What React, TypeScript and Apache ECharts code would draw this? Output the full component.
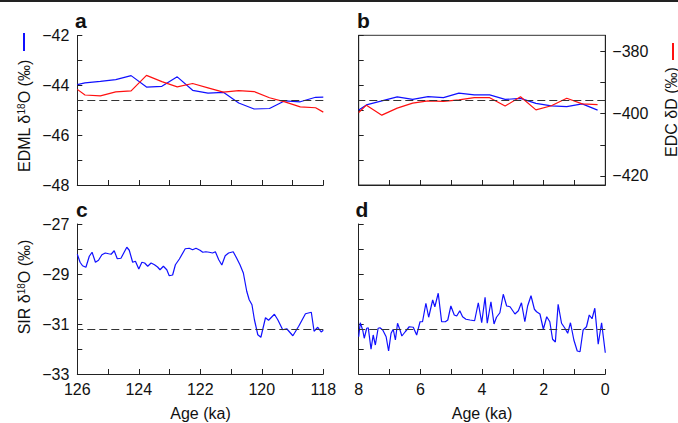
import React, { useEffect, useRef } from "react";
import * as echarts from "echarts";

const FONT = "'Liberation Sans', Arial, Helvetica, sans-serif";
const BLUE = "#1010ff";
const RED = "#ff1010";
const AX = "#222222";
const TXT = "#111111";

// Panel a: Last Interglacial, EDML δ18O (left axis) and EDC δD (right axis)
const aEdmlAge = [126, 125.75, 125.25, 124.75, 124.25, 123.75, 123.25, 122.75, 122.25, 121.75, 121.25, 120.75, 120.25, 119.75, 119.25, 118.75, 118.25, 118];
const aEdmlD18O = [-43.97, -43.9, -43.84, -43.77, -43.61, -44.07, -44.04, -43.66, -44.2, -44.31, -44.28, -44.71, -44.95, -44.93, -44.62, -44.66, -44.48, -44.47];
const aEdcAge = [126, 125.75, 125.25, 124.75, 124.25, 123.75, 123.25, 122.75, 122.25, 121.75, 121.25, 120.75, 120.25, 119.75, 119.25, 118.75, 118.25, 118];
const aEdcDD = [-392.2, -394.0, -394.3, -393.0, -392.7, -387.7, -389.7, -391.4, -390.3, -391.7, -393.1, -392.6, -392.9, -394.9, -396.2, -397.8, -398.1, -399.5];

// Panel b: Holocene
const bAge = [8, 7.75, 7.25, 6.75, 6.25, 5.75, 5.25, 4.75, 4.25, 3.75, 3.25, 2.75, 2.25, 1.75, 1.25, 0.75, 0.25];
const bEdmlD18O = [-44.99, -44.79, -44.63, -44.47, -44.57, -44.46, -44.5, -44.32, -44.39, -44.39, -44.57, -44.53, -44.73, -44.83, -44.86, -44.75, -45.0];
const bEdcDD = [-399.67, -397.3, -400.5, -398.26, -396.66, -395.9, -396.1, -395.6, -394.9, -394.9, -397.6, -394.6, -398.8, -397.5, -395.1, -396.9, -397.1];

const edmlRef = -44.6;

// Panel c: SIR δ18O, Last Interglacial
const cAge = [126.0, 125.91, 125.83, 125.72, 125.61, 125.52, 125.41, 125.31, 125.2, 125.09, 124.98, 124.9, 124.8, 124.7, 124.58, 124.39, 124.31, 124.2, 124.11, 124.0, 123.9, 123.81, 123.71, 123.6, 123.49, 123.39, 123.31, 123.2, 123.09, 123.01, 122.9, 122.81, 122.68, 122.49, 122.36, 122.25, 122.14, 122.01, 121.92, 121.82, 121.71, 121.6, 121.51, 121.4, 121.3, 121.19, 121.08, 120.93, 120.82, 120.71, 120.6, 120.49, 120.41, 120.32, 120.24, 120.13, 120.03, 119.88, 119.78, 119.59, 119.48, 119.32, 119.19, 118.99, 118.8, 118.58, 118.39, 118.3, 118.18, 118.07, 118.0];
const cSir = [-28.21, -28.53, -28.67, -28.73, -28.29, -28.13, -28.53, -28.45, -28.23, -28.16, -28.19, -28.21, -28.07, -28.39, -28.37, -27.93, -28.05, -28.53, -28.49, -28.8, -28.53, -28.56, -28.69, -28.56, -28.63, -28.72, -28.83, -28.69, -28.83, -29.07, -29.04, -28.63, -28.4, -27.99, -27.97, -28.03, -27.97, -28.05, -28.13, -28.11, -28.13, -28.16, -28.11, -28.43, -28.64, -28.27, -28.16, -28.11, -28.36, -28.63, -28.96, -29.69, -30.03, -30.23, -30.83, -31.43, -31.53, -30.75, -30.85, -30.61, -30.83, -31.23, -31.19, -31.47, -31.09, -30.59, -30.53, -31.29, -31.13, -31.32, -31.25];

// Panel d: SIR δ18O, Holocene
const dAge = [8.0, 7.95, 7.87, 7.82, 7.74, 7.69, 7.6, 7.53, 7.46, 7.37, 7.31, 7.22, 7.11, 7.03, 6.95, 6.88, 6.81, 6.74, 6.66, 6.6, 6.49, 6.36, 6.23, 6.12, 6.01, 5.93, 5.82, 5.73, 5.6, 5.53, 5.42, 5.31, 5.19, 5.11, 5.01, 4.9, 4.82, 4.72, 4.63, 4.52, 4.39, 4.24, 4.12, 4.01, 3.9, 3.83, 3.71, 3.61, 3.53, 3.42, 3.31, 3.2, 3.09, 2.93, 2.82, 2.72, 2.61, 2.52, 2.41, 2.3, 2.23, 2.12, 2.01, 1.9, 1.8, 1.71, 1.62, 1.53, 1.42, 1.31, 1.22, 1.13, 1.02, 0.91, 0.82, 0.72, 0.61, 0.52, 0.43, 0.34, 0.23, 0.12, 0.0];
const dSir = [-31.51, -30.95, -31.24, -31.57, -31.17, -31.15, -32.01, -31.44, -31.84, -31.17, -31.15, -31.24, -31.51, -32.08, -31.37, -31.21, -31.64, -30.97, -31.24, -31.48, -31.31, -31.11, -31.13, -31.44, -30.91, -30.91, -30.17, -30.73, -30.04, -30.31, -29.77, -30.91, -30.91, -30.84, -30.28, -30.64, -30.68, -30.47, -30.71, -30.81, -30.84, -30.87, -30.15, -30.95, -29.93, -30.97, -30.11, -31.0, -30.73, -30.55, -29.81, -30.28, -30.31, -30.6, -30.47, -30.15, -30.91, -30.28, -29.87, -30.41, -30.51, -30.6, -31.21, -30.71, -30.91, -31.61, -31.72, -30.21, -30.97, -31.17, -31.37, -30.95, -31.64, -32.08, -32.11, -31.24, -31.11, -30.64, -30.79, -30.37, -31.81, -30.95, -32.15];

const sirRef = -31.21;

// Axis ranges and tick labels
const edmlRange = [-48, -42];
const edcRange = [-422.9, -374.9];
const edcTicks = [-420, -410, -400, -390, -380];
const edcLabels = [-420, -400, -380];
const sirRange = [-33, -27];
const ligRange = [118, 126];
const holRange = [0, 8];

const zip = (xs: number[], ys: number[]) => xs.slice(0, Math.min(xs.length, ys.length)).map((x, i) => [x, ys[i]]);
const minus = (v: number) => (v < 0 ? "\u2212" + Math.abs(v) : String(v));

const labelStyle = { fontFamily: FONT, fontSize: 16, color: TXT };

function xAxis(gridIndex: number, range: number[], showLabels: boolean) {
  return {
    type: "value",
    gridIndex,
    min: range[0],
    max: range[1],
    interval: 1,
    inverse: true,
    axisLine: { show: true, onZero: false, lineStyle: { color: AX, width: 1 } },
    axisTick: { show: true, inside: true, length: 5, lineStyle: { color: AX, width: 1 } },
    axisLabel: {
      show: showLabels,
      margin: 7,
      ...labelStyle,
      formatter: (v: number) => (Math.round(v) % 2 === 0 ? minus(v) : ""),
    },
    splitLine: { show: false },
  };
}

function yAxis(gridIndex: number, range: number[], showLabels: boolean, even: boolean) {
  return {
    type: "value",
    gridIndex,
    min: range[0],
    max: range[1],
    interval: 1,
    axisLine: { show: true, onZero: false, lineStyle: { color: AX, width: 1 } },
    axisTick: { show: true, inside: true, length: 5, lineStyle: { color: AX, width: 1 } },
    axisLabel: {
      show: showLabels,
      margin: 8,
      ...labelStyle,
      formatter: (v: number) => {
        const r = Math.round(Math.abs(v)) % 2;
        return (even ? r === 0 : r === 1) ? minus(v) : "";
      },
    },
    splitLine: { show: false },
  };
}

function dashed(value: number) {
  return {
    silent: true,
    symbol: "none",
    label: { show: false },
    lineStyle: { type: [8, 4], color: "#333", width: 1.2 },
    data: [{ yAxis: value }],
  };
}

function lineSeries(name: string, xi: number, yi: number, data: number[][], color: string, ref?: number) {
  const s: any = {
    name,
    type: "line",
    xAxisIndex: xi,
    yAxisIndex: yi,
    data,
    symbol: "none",
    showSymbol: false,
    lineStyle: { color, width: 1.2 },
    itemStyle: { color },
    clip: true,
    z: 3,
  };
  if (ref !== undefined) s.markLine = dashed(ref);
  return s;
}

function rotText(x: number, y: number, text: string) {
  return {
    type: "text",
    x,
    y,
    rotation: Math.PI / 2,
    style: {
      text,
      align: "center",
      verticalAlign: "middle",
      textAlign: "center",
      textVerticalAlign: "middle",
      rich: {
        n: { fontFamily: FONT, fontSize: 16, fill: TXT, color: TXT },
        s: { fontFamily: FONT, fontSize: 10, fill: TXT, color: TXT, verticalAlign: "top" },
      },
    },
  };
}

function plainText(x: number, y: number, text: string, size: number, bold: boolean, align = "left") {
  return {
    type: "text",
    x,
    y,
    style: {
      text,
      fill: TXT,
      font: `${bold ? "bold " : ""}${size}px ${FONT}`,
      align,
      verticalAlign: "middle",
      textAlign: align,
      textVerticalAlign: "middle",
    },
  };
}

export default function App() {
  const ref = useRef<HTMLDivElement>(null);

  useEffect(() => {
    if (!ref.current) return;
    const chart = echarts.init(ref.current, undefined, { renderer: "svg", width: 678, height: 423 });
    const option: any = {
      animation: false,
      backgroundColor: "#ffffff",
      grid: [
        { left: 77.3, top: 35.5, width: 246, height: 149.5 },
        { left: 358.7, top: 35.3, width: 246.6, height: 149.7, show: true, borderColor: "#333", borderWidth: 1, backgroundColor: "transparent" },
        { left: 77.3, top: 224, width: 246, height: 150 },
        { left: 358.7, top: 224, width: 246.6, height: 150 },
      ],
      xAxis: [
        xAxis(0, ligRange, false),
        xAxis(1, holRange, false),
        xAxis(2, ligRange, true),
        xAxis(3, holRange, true),
      ],
      yAxis: [
        yAxis(0, edmlRange, true, true),
        { type: "value", gridIndex: 0, min: edcRange[0], max: edcRange[1], show: false, splitLine: { show: false } },
        yAxis(1, edmlRange, false, true),
        {
          type: "value",
          gridIndex: 1,
          position: "right",
          min: edcRange[0],
          max: edcRange[1],
          axisLine: { show: true, onZero: false, lineStyle: { color: AX, width: 1 } },
          axisTick: { show: true, inside: true, length: 5, customValues: edcTicks, lineStyle: { color: AX, width: 1 } },
          axisLabel: { show: true, margin: 7, ...labelStyle, customValues: edcLabels, formatter: (v: number) => minus(v) },
          splitLine: { show: false },
        },
        yAxis(2, sirRange, true, false),
        yAxis(3, sirRange, false, false),
      ],
      series: [
        lineSeries("EDML a", 0, 0, zip(aEdmlAge, aEdmlD18O), BLUE, edmlRef),
        lineSeries("EDC a", 0, 1, zip(aEdcAge, aEdcDD), RED),
        lineSeries("EDML b", 1, 2, zip(bAge, bEdmlD18O), BLUE, edmlRef),
        lineSeries("EDC b", 1, 3, zip(bAge, bEdcDD), RED),
        lineSeries("SIR c", 2, 4, zip(cAge, cSir), BLUE, sirRef),
        lineSeries("SIR d", 3, 5, zip(dAge, dSir), BLUE, sirRef),
      ],
      graphic: [
        { type: "rect", shape: { x: 0, y: 0, width: 678, height: 2 }, style: { fill: "#222" } },
        plainText(75, 20, "a", 21, true),
        plainText(357, 20, "b", 21, true),
        plainText(76, 209, "c", 21, true),
        plainText(355.5, 209, "d", 21, true),
        rotText(24, 116, "{n|EDML δ}{s|18}{n|O (‰)}"),
        rotText(24, 287, "{n|SIR δ}{s|18}{n|O (‰)}"),
        rotText(671, 112, "{n|EDC δD (‰)}"),
        { type: "line", shape: { x1: 24, y1: 33, x2: 24, y2: 51 }, style: { stroke: BLUE, lineWidth: 2 } },
        { type: "line", shape: { x1: 673, y1: 43, x2: 673, y2: 60 }, style: { stroke: RED, lineWidth: 2 } },
        plainText(200.5, 413, "Age (ka)", 16, false, "center"),
        plainText(482, 413, "Age (ka)", 16, false, "center"),
      ],
    };
    chart.setOption(option);
    return () => chart.dispose();
  }, []);

  return (
    <div
      ref={ref}
      style={{ position: "absolute", left: 0, top: 0, width: 678, height: 423, background: "#fff" }}
    />
  );
}
